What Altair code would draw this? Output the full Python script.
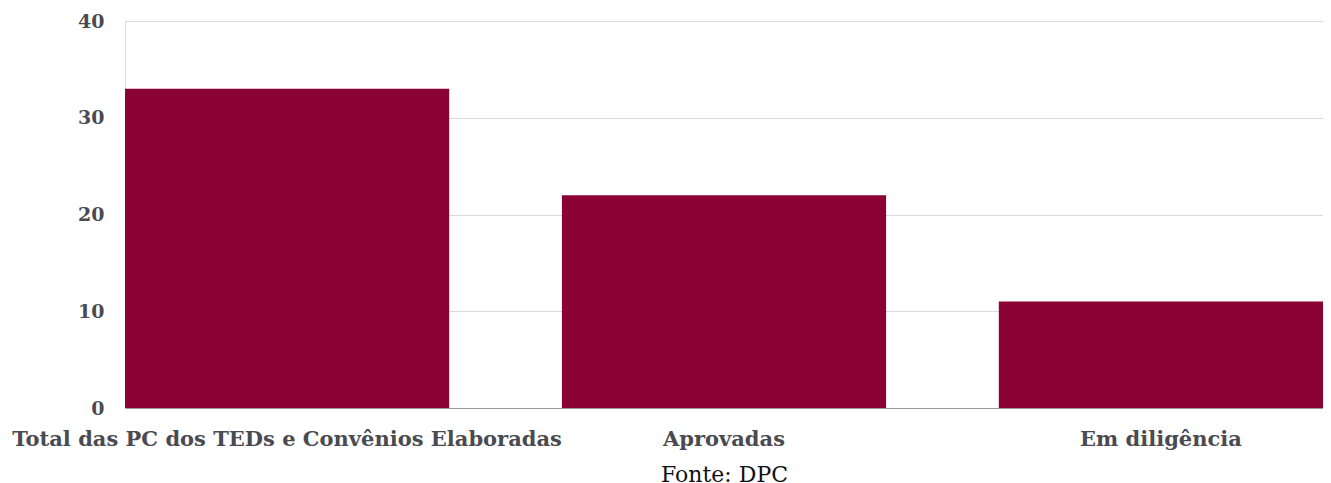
import altair as alt
import pandas as pd

categories = ["Total das PC dos TEDs e Convênios Elaboradas", "Aprovadas", "Em diligência"]
values = [33, 22, 11]
y_ticks = [0, 10, 20, 30, 40]

df = pd.DataFrame({"cat": categories, "val": values})

FONT = "DejaVu Serif"

chart = alt.Chart(df).mark_bar(color="#8B0333").encode(
    x=alt.X("cat:N", sort=categories,
            scale=alt.Scale(paddingInner=0.258, paddingOuter=0),
            axis=alt.Axis(title="Fonte: DPC", labelAngle=0, ticks=False, domain=True,
                          domainColor="#9a9a9a", labelFontSize=21, labelFontWeight="bold",
                          labelColor="#4a4a50", labelFont=FONT, labelPadding=20,
                          labelLimit=0, titleFont=FONT, titleFontSize=22,
                          titleFontWeight="normal", titleColor="#111111", titlePadding=15)),
    y=alt.Y("val:Q", scale=alt.Scale(domain=[0, 40]),
            axis=alt.Axis(title=None, values=y_ticks, ticks=False, domain=False,
                          gridColor="#d9d9d9", labelFontSize=19, labelFontWeight="bold",
                          labelColor="#4a4a50", labelFont=FONT, labelPadding=21)),
).properties(
    width=1198, height=387,
    title=alt.TitleParams("Maio - Prestação de Contas", font=FONT, fontSize=21,
                          fontWeight="bold", color="#4a4a50", anchor="middle",
                          baseline="alphabetic", offset=0, frame="group", dy=8),
    autosize=alt.AutoSizeParams(type="none"),
    padding={"left": 117, "top": 13, "right": 0, "bottom": 80},
).configure_view(stroke=None).configure(background="white")

chart.save("out.html", embed_options={"renderer": "svg", "actions": False})
